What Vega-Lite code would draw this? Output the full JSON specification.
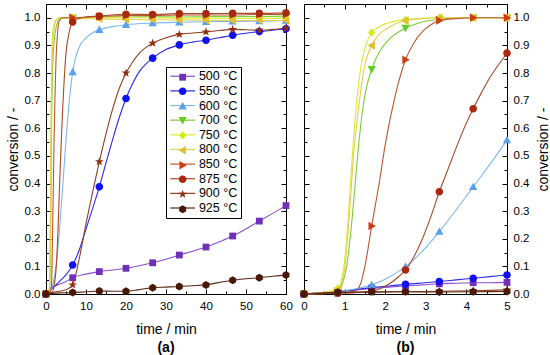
{
"$schema":"https://vega.github.io/schema/vega-lite/v6.json",
"padding":{"left":5,"top":3,"right":5,"bottom":0},
"background":"white",
"config":{"font":"Liberation Sans","view":{"stroke":"#000","strokeWidth":1},
"axis":{"domain":false,"grid":false,"tickColor":"#000","tickWidth":1,"labelFont":"Liberation Sans","labelFontSize":11.5,"labelColor":"#000","titleFont":"Liberation Sans","titleFontSize":14,"titleFontWeight":"normal","titleColor":"#000","labelFlush":false,"labelOverlap":false},
"title":{"font":"Liberation Sans","color":"#000"}},
"datasets":{
"A":[
{"s":"500 °C","t":0,"c":0,"m":1},{"s":"500 °C","t":1,"c":0.02,"m":0},{"s":"500 °C","t":2,"c":0.028,"m":0},{"s":"500 °C","t":3,"c":0.034,"m":0},{"s":"500 °C","t":4,"c":0.039,"m":0},{"s":"500 °C","t":5,"c":0.045,"m":0},{"s":"500 °C","t":6.667,"c":0.059,"m":1},{"s":"500 °C","t":10,"c":0.072,"m":0},{"s":"500 °C","t":13.333,"c":0.081,"m":1},{"s":"500 °C","t":16.667,"c":0.087,"m":0},{"s":"500 °C","t":20,"c":0.093,"m":1},{"s":"500 °C","t":23.333,"c":0.102,"m":0},{"s":"500 °C","t":26.667,"c":0.113,"m":1},{"s":"500 °C","t":30,"c":0.126,"m":0},{"s":"500 °C","t":33.333,"c":0.141,"m":1},{"s":"500 °C","t":36.667,"c":0.155,"m":0},{"s":"500 °C","t":40,"c":0.17,"m":1},{"s":"500 °C","t":43.333,"c":0.189,"m":0},{"s":"500 °C","t":46.667,"c":0.21,"m":1},{"s":"500 °C","t":50,"c":0.236,"m":0},{"s":"500 °C","t":53.333,"c":0.264,"m":1},{"s":"500 °C","t":56.667,"c":0.292,"m":0},{"s":"500 °C","t":60,"c":0.32,"m":1},
{"s":"550 °C","t":0,"c":0,"m":1},{"s":"550 °C","t":1.667,"c":0.022,"m":0},{"s":"550 °C","t":3.333,"c":0.045,"m":0},{"s":"550 °C","t":5,"c":0.069,"m":0},{"s":"550 °C","t":6.667,"c":0.105,"m":1},{"s":"550 °C","t":8.333,"c":0.16,"m":0},{"s":"550 °C","t":10,"c":0.235,"m":0},{"s":"550 °C","t":11.667,"c":0.31,"m":0},{"s":"550 °C","t":13.333,"c":0.388,"m":1},{"s":"550 °C","t":15,"c":0.475,"m":0},{"s":"550 °C","t":16.667,"c":0.56,"m":0},{"s":"550 °C","t":18.333,"c":0.64,"m":0},{"s":"550 °C","t":20,"c":0.708,"m":1},{"s":"550 °C","t":21.667,"c":0.762,"m":0},{"s":"550 °C","t":23.333,"c":0.805,"m":0},{"s":"550 °C","t":25,"c":0.833,"m":0},{"s":"550 °C","t":26.667,"c":0.854,"m":1},{"s":"550 °C","t":30,"c":0.885,"m":0},{"s":"550 °C","t":33.333,"c":0.902,"m":1},{"s":"550 °C","t":36.667,"c":0.912,"m":0},{"s":"550 °C","t":40,"c":0.919,"m":1},{"s":"550 °C","t":43.333,"c":0.928,"m":0},{"s":"550 °C","t":46.667,"c":0.937,"m":1},{"s":"550 °C","t":50,"c":0.944,"m":0},{"s":"550 °C","t":53.333,"c":0.95,"m":1},{"s":"550 °C","t":56.667,"c":0.955,"m":0},{"s":"550 °C","t":60,"c":0.96,"m":1},
{"s":"600 °C","t":0,"c":0,"m":1},{"s":"600 °C","t":0.833,"c":0.008,"m":0},{"s":"600 °C","t":1.667,"c":0.033,"m":0},{"s":"600 °C","t":2.5,"c":0.099,"m":0},{"s":"600 °C","t":3.333,"c":0.226,"m":0},{"s":"600 °C","t":4.167,"c":0.388,"m":0},{"s":"600 °C","t":5,"c":0.557,"m":0},{"s":"600 °C","t":5.833,"c":0.7,"m":0},{"s":"600 °C","t":6.667,"c":0.804,"m":1},{"s":"600 °C","t":7.5,"c":0.86,"m":0},{"s":"600 °C","t":8.333,"c":0.895,"m":0},{"s":"600 °C","t":10,"c":0.927,"m":0},{"s":"600 °C","t":11.667,"c":0.946,"m":0},{"s":"600 °C","t":13.333,"c":0.957,"m":1},{"s":"600 °C","t":16.667,"c":0.968,"m":0},{"s":"600 °C","t":20,"c":0.975,"m":1},{"s":"600 °C","t":26.667,"c":0.981,"m":1},{"s":"600 °C","t":33.333,"c":0.984,"m":1},{"s":"600 °C","t":40,"c":0.986,"m":1},{"s":"600 °C","t":46.667,"c":0.987,"m":1},{"s":"600 °C","t":53.333,"c":0.988,"m":1},{"s":"600 °C","t":60,"c":0.99,"m":1},
{"s":"700 °C","t":0,"c":0,"m":1},{"s":"700 °C","t":0.833,"c":0.012,"m":0},{"s":"700 °C","t":0.95,"c":0.04,"m":0},{"s":"700 °C","t":1.05,"c":0.1,"m":0},{"s":"700 °C","t":1.15,"c":0.22,"m":0},{"s":"700 °C","t":1.25,"c":0.38,"m":0},{"s":"700 °C","t":1.333,"c":0.52,"m":0},{"s":"700 °C","t":1.42,"c":0.64,"m":0},{"s":"700 °C","t":1.5,"c":0.72,"m":0},{"s":"700 °C","t":1.667,"c":0.814,"m":0},{"s":"700 °C","t":2.083,"c":0.92,"m":0},{"s":"700 °C","t":2.5,"c":0.963,"m":0},{"s":"700 °C","t":3.333,"c":0.995,"m":0},{"s":"700 °C","t":5,"c":1.0,"m":0},{"s":"700 °C","t":6.667,"c":1.0,"m":1},{"s":"700 °C","t":13.333,"c":1.003,"m":1},{"s":"700 °C","t":20,"c":1.002,"m":1},{"s":"700 °C","t":26.667,"c":1.004,"m":1},{"s":"700 °C","t":33.333,"c":1.003,"m":1},{"s":"700 °C","t":40,"c":1.004,"m":1},{"s":"700 °C","t":46.667,"c":1.005,"m":1},{"s":"700 °C","t":53.333,"c":1.005,"m":1},{"s":"700 °C","t":60,"c":1.006,"m":1},
{"s":"750 °C","t":0,"c":0,"m":1},{"s":"750 °C","t":0.833,"c":0.02,"m":0},{"s":"750 °C","t":0.92,"c":0.05,"m":0},{"s":"750 °C","t":1.0,"c":0.12,"m":0},{"s":"750 °C","t":1.1,"c":0.3,"m":0},{"s":"750 °C","t":1.2,"c":0.52,"m":0},{"s":"750 °C","t":1.3,"c":0.7,"m":0},{"s":"750 °C","t":1.4,"c":0.82,"m":0},{"s":"750 °C","t":1.5,"c":0.89,"m":0},{"s":"750 °C","t":1.667,"c":0.947,"m":0},{"s":"750 °C","t":2.083,"c":0.982,"m":0},{"s":"750 °C","t":2.5,"c":0.993,"m":0},{"s":"750 °C","t":3.333,"c":1.0,"m":0},{"s":"750 °C","t":6.667,"c":1.0,"m":1},{"s":"750 °C","t":13.333,"c":1.001,"m":1},{"s":"750 °C","t":20,"c":1.0,"m":1},{"s":"750 °C","t":26.667,"c":1.0,"m":1},{"s":"750 °C","t":33.333,"c":0.999,"m":1},{"s":"750 °C","t":40,"c":0.999,"m":1},{"s":"750 °C","t":46.667,"c":0.998,"m":1},{"s":"750 °C","t":53.333,"c":0.998,"m":1},{"s":"750 °C","t":60,"c":0.998,"m":1},
{"s":"800 °C","t":0,"c":0,"m":1},{"s":"800 °C","t":0.833,"c":0.015,"m":0},{"s":"800 °C","t":0.92,"c":0.04,"m":0},{"s":"800 °C","t":1.0,"c":0.09,"m":0},{"s":"800 °C","t":1.1,"c":0.25,"m":0},{"s":"800 °C","t":1.23,"c":0.52,"m":0},{"s":"800 °C","t":1.333,"c":0.66,"m":0},{"s":"800 °C","t":1.42,"c":0.76,"m":0},{"s":"800 °C","t":1.5,"c":0.83,"m":0},{"s":"800 °C","t":1.667,"c":0.9,"m":0},{"s":"800 °C","t":2.083,"c":0.965,"m":0},{"s":"800 °C","t":2.5,"c":0.99,"m":0},{"s":"800 °C","t":3.333,"c":1.0,"m":0},{"s":"800 °C","t":6.667,"c":0.998,"m":1},{"s":"800 °C","t":13.333,"c":0.996,"m":1},{"s":"800 °C","t":20,"c":0.994,"m":1},{"s":"800 °C","t":26.667,"c":0.993,"m":1},{"s":"800 °C","t":33.333,"c":0.992,"m":1},{"s":"800 °C","t":40,"c":0.991,"m":1},{"s":"800 °C","t":46.667,"c":0.99,"m":1},{"s":"800 °C","t":53.333,"c":0.99,"m":1},{"s":"800 °C","t":60,"c":0.99,"m":1},
{"s":"850 °C","t":0,"c":0,"m":1},{"s":"850 °C","t":0.833,"c":0.004,"m":0},{"s":"850 °C","t":1.333,"c":0.02,"m":0},{"s":"850 °C","t":1.5,"c":0.1,"m":0},{"s":"850 °C","t":1.667,"c":0.246,"m":0},{"s":"850 °C","t":1.85,"c":0.4,"m":0},{"s":"850 °C","t":2.0,"c":0.54,"m":0},{"s":"850 °C","t":2.25,"c":0.72,"m":0},{"s":"850 °C","t":2.5,"c":0.848,"m":0},{"s":"850 °C","t":2.917,"c":0.95,"m":0},{"s":"850 °C","t":3.333,"c":0.99,"m":0},{"s":"850 °C","t":4.167,"c":1.0,"m":0},{"s":"850 °C","t":6.667,"c":1.0,"m":1},{"s":"850 °C","t":13.333,"c":1.005,"m":1},{"s":"850 °C","t":20,"c":1.008,"m":1},{"s":"850 °C","t":26.667,"c":1.008,"m":1},{"s":"850 °C","t":33.333,"c":1.01,"m":1},{"s":"850 °C","t":40,"c":1.01,"m":1},{"s":"850 °C","t":46.667,"c":1.01,"m":1},{"s":"850 °C","t":53.333,"c":1.012,"m":1},{"s":"850 °C","t":60,"c":1.012,"m":1},
{"s":"875 °C","t":0,"c":0,"m":1},{"s":"875 °C","t":0.833,"c":0.003,"m":0},{"s":"875 °C","t":1.667,"c":0.01,"m":0},{"s":"875 °C","t":2.083,"c":0.035,"m":0},{"s":"875 °C","t":2.5,"c":0.087,"m":0},{"s":"875 °C","t":2.917,"c":0.2,"m":0},{"s":"875 °C","t":3.333,"c":0.37,"m":0},{"s":"875 °C","t":3.75,"c":0.53,"m":0},{"s":"875 °C","t":4.167,"c":0.671,"m":0},{"s":"875 °C","t":4.583,"c":0.785,"m":0},{"s":"875 °C","t":5,"c":0.872,"m":0},{"s":"875 °C","t":5.833,"c":0.95,"m":0},{"s":"875 °C","t":6.667,"c":0.985,"m":1},{"s":"875 °C","t":8.333,"c":0.998,"m":0},{"s":"875 °C","t":10,"c":1.003,"m":0},{"s":"875 °C","t":13.333,"c":1.006,"m":1},{"s":"875 °C","t":20,"c":1.013,"m":1},{"s":"875 °C","t":26.667,"c":1.012,"m":1},{"s":"875 °C","t":33.333,"c":1.015,"m":1},{"s":"875 °C","t":40,"c":1.015,"m":1},{"s":"875 °C","t":46.667,"c":1.016,"m":1},{"s":"875 °C","t":53.333,"c":1.016,"m":1},{"s":"875 °C","t":60,"c":1.018,"m":1},
{"s":"900 °C","t":0,"c":0,"m":1},{"s":"900 °C","t":2.5,"c":0.008,"m":0},{"s":"900 °C","t":5,"c":0.015,"m":0},{"s":"900 °C","t":6.667,"c":0.033,"m":1},{"s":"900 °C","t":8.333,"c":0.13,"m":0},{"s":"900 °C","t":10,"c":0.255,"m":0},{"s":"900 °C","t":11.667,"c":0.37,"m":0},{"s":"900 °C","t":13.333,"c":0.479,"m":1},{"s":"900 °C","t":15,"c":0.58,"m":0},{"s":"900 °C","t":16.667,"c":0.67,"m":0},{"s":"900 °C","t":18.333,"c":0.745,"m":0},{"s":"900 °C","t":20,"c":0.8,"m":1},{"s":"900 °C","t":21.667,"c":0.84,"m":0},{"s":"900 °C","t":23.333,"c":0.872,"m":0},{"s":"900 °C","t":25,"c":0.893,"m":0},{"s":"900 °C","t":26.667,"c":0.908,"m":1},{"s":"900 °C","t":30,"c":0.928,"m":0},{"s":"900 °C","t":33.333,"c":0.94,"m":1},{"s":"900 °C","t":36.667,"c":0.945,"m":0},{"s":"900 °C","t":40,"c":0.949,"m":1},{"s":"900 °C","t":43.333,"c":0.954,"m":0},{"s":"900 °C","t":46.667,"c":0.958,"m":1},{"s":"900 °C","t":50,"c":0.957,"m":0},{"s":"900 °C","t":53.333,"c":0.955,"m":1},{"s":"900 °C","t":56.667,"c":0.958,"m":0},{"s":"900 °C","t":60,"c":0.962,"m":1},
{"s":"925 °C","t":0,"c":0,"m":1},{"s":"925 °C","t":3.333,"c":0.004,"m":0},{"s":"925 °C","t":6.667,"c":0.005,"m":1},{"s":"925 °C","t":10,"c":0.008,"m":0},{"s":"925 °C","t":13.333,"c":0.011,"m":1},{"s":"925 °C","t":16.667,"c":0.01,"m":0},{"s":"925 °C","t":20,"c":0.01,"m":1},{"s":"925 °C","t":23.333,"c":0.016,"m":0},{"s":"925 °C","t":26.667,"c":0.023,"m":1},{"s":"925 °C","t":30,"c":0.025,"m":0},{"s":"925 °C","t":33.333,"c":0.027,"m":1},{"s":"925 °C","t":36.667,"c":0.03,"m":0},{"s":"925 °C","t":40,"c":0.033,"m":1},{"s":"925 °C","t":43.333,"c":0.042,"m":0},{"s":"925 °C","t":46.667,"c":0.05,"m":1},{"s":"925 °C","t":50,"c":0.055,"m":0},{"s":"925 °C","t":53.333,"c":0.059,"m":1},{"s":"925 °C","t":56.667,"c":0.064,"m":0},{"s":"925 °C","t":60,"c":0.069,"m":1}
],
"B":[
{"s":"500 °C","t":0,"c":0,"m":1},{"s":"500 °C","t":0.417,"c":0.004,"m":0},{"s":"500 °C","t":0.833,"c":0.008,"m":1},{"s":"500 °C","t":1.25,"c":0.014,"m":0},{"s":"500 °C","t":1.667,"c":0.02,"m":1},{"s":"500 °C","t":2.083,"c":0.025,"m":0},{"s":"500 °C","t":2.5,"c":0.029,"m":1},{"s":"500 °C","t":2.917,"c":0.033,"m":0},{"s":"500 °C","t":3.333,"c":0.037,"m":1},{"s":"500 °C","t":3.75,"c":0.039,"m":0},{"s":"500 °C","t":4.167,"c":0.041,"m":1},{"s":"500 °C","t":4.583,"c":0.041,"m":0},{"s":"500 °C","t":5,"c":0.042,"m":1},
{"s":"550 °C","t":0,"c":0,"m":1},{"s":"550 °C","t":0.417,"c":0.004,"m":0},{"s":"550 °C","t":0.833,"c":0.009,"m":1},{"s":"550 °C","t":1.25,"c":0.016,"m":0},{"s":"550 °C","t":1.667,"c":0.023,"m":1},{"s":"550 °C","t":2.083,"c":0.029,"m":0},{"s":"550 °C","t":2.5,"c":0.035,"m":1},{"s":"550 °C","t":2.917,"c":0.04,"m":0},{"s":"550 °C","t":3.333,"c":0.045,"m":1},{"s":"550 °C","t":3.75,"c":0.051,"m":0},{"s":"550 °C","t":4.167,"c":0.057,"m":1},{"s":"550 °C","t":4.583,"c":0.063,"m":0},{"s":"550 °C","t":5,"c":0.069,"m":1},
{"s":"600 °C","t":0,"c":0,"m":1},{"s":"600 °C","t":0.417,"c":0.003,"m":0},{"s":"600 °C","t":0.833,"c":0.008,"m":1},{"s":"600 °C","t":1.25,"c":0.018,"m":0},{"s":"600 °C","t":1.667,"c":0.033,"m":1},{"s":"600 °C","t":2.083,"c":0.06,"m":0},{"s":"600 °C","t":2.5,"c":0.099,"m":1},{"s":"600 °C","t":2.917,"c":0.155,"m":0},{"s":"600 °C","t":3.333,"c":0.226,"m":1},{"s":"600 °C","t":3.75,"c":0.305,"m":0},{"s":"600 °C","t":4.167,"c":0.388,"m":1},{"s":"600 °C","t":4.583,"c":0.47,"m":0},{"s":"600 °C","t":5,"c":0.557,"m":1},
{"s":"700 °C","t":0,"c":0,"m":1},{"s":"700 °C","t":0.417,"c":0.004,"m":0},{"s":"700 °C","t":0.833,"c":0.012,"m":1},{"s":"700 °C","t":0.95,"c":0.04,"m":0},{"s":"700 °C","t":1.05,"c":0.1,"m":0},{"s":"700 °C","t":1.15,"c":0.22,"m":0},{"s":"700 °C","t":1.25,"c":0.38,"m":0},{"s":"700 °C","t":1.333,"c":0.52,"m":0},{"s":"700 °C","t":1.42,"c":0.64,"m":0},{"s":"700 °C","t":1.5,"c":0.72,"m":0},{"s":"700 °C","t":1.667,"c":0.814,"m":1},{"s":"700 °C","t":1.85,"c":0.875,"m":0},{"s":"700 °C","t":2.083,"c":0.92,"m":0},{"s":"700 °C","t":2.5,"c":0.963,"m":1},{"s":"700 °C","t":2.917,"c":0.985,"m":0},{"s":"700 °C","t":3.333,"c":0.995,"m":1},{"s":"700 °C","t":3.75,"c":0.999,"m":0},{"s":"700 °C","t":4.167,"c":1.0,"m":1},{"s":"700 °C","t":5,"c":1.0,"m":1},
{"s":"750 °C","t":0,"c":0,"m":1},{"s":"750 °C","t":0.417,"c":0.005,"m":0},{"s":"750 °C","t":0.833,"c":0.02,"m":1},{"s":"750 °C","t":0.92,"c":0.05,"m":0},{"s":"750 °C","t":1.0,"c":0.12,"m":0},{"s":"750 °C","t":1.1,"c":0.3,"m":0},{"s":"750 °C","t":1.2,"c":0.52,"m":0},{"s":"750 °C","t":1.3,"c":0.7,"m":0},{"s":"750 °C","t":1.4,"c":0.82,"m":0},{"s":"750 °C","t":1.5,"c":0.89,"m":0},{"s":"750 °C","t":1.667,"c":0.947,"m":1},{"s":"750 °C","t":1.85,"c":0.968,"m":0},{"s":"750 °C","t":2.083,"c":0.982,"m":0},{"s":"750 °C","t":2.5,"c":0.993,"m":1},{"s":"750 °C","t":2.917,"c":0.998,"m":0},{"s":"750 °C","t":3.333,"c":1.0,"m":1},{"s":"750 °C","t":4.167,"c":1.0,"m":1},{"s":"750 °C","t":5,"c":1.0,"m":1},
{"s":"800 °C","t":0,"c":0,"m":1},{"s":"800 °C","t":0.417,"c":0.004,"m":0},{"s":"800 °C","t":0.833,"c":0.015,"m":1},{"s":"800 °C","t":0.92,"c":0.04,"m":0},{"s":"800 °C","t":1.0,"c":0.09,"m":0},{"s":"800 °C","t":1.1,"c":0.25,"m":0},{"s":"800 °C","t":1.23,"c":0.52,"m":0},{"s":"800 °C","t":1.333,"c":0.66,"m":0},{"s":"800 °C","t":1.42,"c":0.76,"m":0},{"s":"800 °C","t":1.5,"c":0.83,"m":0},{"s":"800 °C","t":1.667,"c":0.9,"m":1},{"s":"800 °C","t":1.85,"c":0.94,"m":0},{"s":"800 °C","t":2.083,"c":0.965,"m":0},{"s":"800 °C","t":2.5,"c":0.99,"m":1},{"s":"800 °C","t":2.917,"c":0.997,"m":0},{"s":"800 °C","t":3.333,"c":1.0,"m":1},{"s":"800 °C","t":4.167,"c":1.0,"m":1},{"s":"800 °C","t":5,"c":1.0,"m":1},
{"s":"850 °C","t":0,"c":0,"m":1},{"s":"850 °C","t":0.833,"c":0.004,"m":1},{"s":"850 °C","t":1.25,"c":0.01,"m":0},{"s":"850 °C","t":1.4,"c":0.04,"m":0},{"s":"850 °C","t":1.5,"c":0.1,"m":0},{"s":"850 °C","t":1.667,"c":0.246,"m":1},{"s":"850 °C","t":1.85,"c":0.4,"m":0},{"s":"850 °C","t":2.0,"c":0.54,"m":0},{"s":"850 °C","t":2.25,"c":0.72,"m":0},{"s":"850 °C","t":2.5,"c":0.848,"m":1},{"s":"850 °C","t":2.708,"c":0.91,"m":0},{"s":"850 °C","t":2.917,"c":0.95,"m":0},{"s":"850 °C","t":3.125,"c":0.975,"m":0},{"s":"850 °C","t":3.333,"c":0.99,"m":1},{"s":"850 °C","t":3.75,"c":0.997,"m":0},{"s":"850 °C","t":4.167,"c":1.0,"m":1},{"s":"850 °C","t":5,"c":1.0,"m":1},
{"s":"875 °C","t":0,"c":0,"m":1},{"s":"875 °C","t":0.833,"c":0.003,"m":1},{"s":"875 °C","t":1.25,"c":0.005,"m":0},{"s":"875 °C","t":1.667,"c":0.01,"m":1},{"s":"875 °C","t":2.083,"c":0.035,"m":0},{"s":"875 °C","t":2.292,"c":0.058,"m":0},{"s":"875 °C","t":2.5,"c":0.087,"m":1},{"s":"875 °C","t":2.708,"c":0.135,"m":0},{"s":"875 °C","t":2.917,"c":0.2,"m":0},{"s":"875 °C","t":3.125,"c":0.28,"m":0},{"s":"875 °C","t":3.333,"c":0.37,"m":1},{"s":"875 °C","t":3.542,"c":0.45,"m":0},{"s":"875 °C","t":3.75,"c":0.53,"m":0},{"s":"875 °C","t":3.958,"c":0.605,"m":0},{"s":"875 °C","t":4.167,"c":0.671,"m":1},{"s":"875 °C","t":4.375,"c":0.73,"m":0},{"s":"875 °C","t":4.583,"c":0.785,"m":0},{"s":"875 °C","t":4.792,"c":0.83,"m":0},{"s":"875 °C","t":5,"c":0.872,"m":1},
{"s":"900 °C","t":0,"c":0,"m":1},{"s":"900 °C","t":0.833,"c":0.004,"m":1},{"s":"900 °C","t":1.667,"c":0.006,"m":1},{"s":"900 °C","t":2.5,"c":0.008,"m":1},{"s":"900 °C","t":3.333,"c":0.01,"m":1},{"s":"900 °C","t":4.167,"c":0.012,"m":1},{"s":"900 °C","t":5,"c":0.015,"m":1},
{"s":"925 °C","t":0,"c":0,"m":1},{"s":"925 °C","t":0.833,"c":0.006,"m":1},{"s":"925 °C","t":1.667,"c":0.008,"m":1},{"s":"925 °C","t":2.5,"c":0.008,"m":1},{"s":"925 °C","t":3.333,"c":0.007,"m":1},{"s":"925 °C","t":4.167,"c":0.008,"m":1},{"s":"925 °C","t":5,"c":0.009,"m":1}
]},
"spacing":18,
"bounds":"flush",
"resolve":{"scale":{"fill":"independent","stroke":"independent","shape":"independent"},"legend":{"fill":"independent","stroke":"independent","shape":"independent"}},
"hconcat":[
{"width":240,"height":290,
"title":{"text":"(a)","orient":"bottom","fontSize":14,"fontWeight":"bold","offset":4},
"resolve":{"scale":{"fill":"independent","stroke":"independent","shape":"independent"},"legend":{"fill":"independent","stroke":"independent","shape":"independent"},"axis":{"x":"independent","y":"independent"}},
"layer":[
{"data":{"name":"A"},"mark":{"type":"line","strokeWidth":1.1,"interpolate":"monotone"},
"encoding":{
"x":{"field":"t","type":"quantitative","scale":{"domain":[0,60],"nice":false,"zero":false},"axis":{"orient":"bottom","values":[0,10,20,30,40,50,60],"offset":-5,"tickSize":5,"labelPadding":6,"title":"time / min","titlePadding":11,"titleFontWeight":"normal"}},
"y":{"field":"c","type":"quantitative","scale":{"domain":[0,1.05],"nice":false,"zero":false},"axis":{"orient":"left","values":[0,0.1,0.2,0.3,0.4,0.5,0.6,0.7,0.8,0.9,1.0],"format":".1f","offset":-5,"tickSize":5,"labelPadding":6,"title":"conversion / -","titlePadding":4,"titleFontWeight":"normal"}},
"stroke":{"field":"s","type":"nominal","scale":{"domain":["500 °C","550 °C","600 °C","700 °C","750 °C","800 °C","850 °C","875 °C","900 °C","925 °C"],"range":["#8a4fd0","#2a2ae8","#7cb8f0","#7ccf3a","#d8ec30","#e8cc50","#b85a30","#a84a28","#8c4020","#5a2a14"]},"legend":null}}},
{"data":{"name":"A"},"transform":[{"filter":"datum.m == 1"}],"mark":{"type":"point","filled":true,"size":64,"opacity":1,"strokeWidth":0},
"encoding":{
"x":{"field":"t","type":"quantitative","scale":{"domain":[0,60],"nice":false,"zero":false},"axis":{"orient":"top","values":[0,10,20,30,40,50,60],"offset":-5,"tickSize":5,"labels":false,"title":null}},
"y":{"field":"c","type":"quantitative","scale":{"domain":[0,1.05],"nice":false,"zero":false},"axis":{"orient":"right","values":[0,0.1,0.2,0.3,0.4,0.5,0.6,0.7,0.8,0.9,1.0],"offset":-5,"tickSize":5,"labels":false,"title":null}},
"fill":{"field":"s","type":"nominal","scale":{"domain":["500 °C","550 °C","600 °C","700 °C","750 °C","800 °C","850 °C","875 °C","900 °C","925 °C"],"range":["#7030b8","#1010f0","#5aa0f0","#66cc22","#d4ee10","#e0c030","#d03c10","#a82810","#903010","#4a1808"]},"legend":null},
"shape":{"field":"s","type":"nominal","scale":{"domain":["500 °C","550 °C","600 °C","700 °C","750 °C","800 °C","850 °C","875 °C","900 °C","925 °C"],"range":["M-0.85,-0.85H0.85V0.85H-0.85Z","M-0.95,0A0.95,0.95,0,1,1,0.95,0A0.95,0.95,0,1,1,-0.95,0Z","M0,-1.05L1.05,0.8L-1.05,0.8Z","M0,1.05L1.05,-0.8L-1.05,-0.8Z","M0,-1.05L0.9,0L0,1.05L-0.9,0Z","M-1.05,0L0.8,-1.05L0.8,1.05Z","M1.05,0L-0.8,-1.05L-0.8,1.05Z","M-0.95,0A0.95,0.95,0,1,1,0.95,0A0.95,0.95,0,1,1,-0.95,0Z","M0,-1.15L0.27,-0.37L1.09,-0.36L0.44,0.14L0.68,0.93L0,0.46L-0.68,0.93L-0.44,0.14L-1.09,-0.36L-0.27,-0.37Z","M0,-1L0.87,-0.5L0.87,0.5L0,1L-0.87,0.5L-0.87,-0.5Z"]},"legend":null}}},
{"data":{"values":[]},"mark":{"type":"point"},
"encoding":{
"x":{"field":"t","type":"quantitative","scale":{"domain":[0,60],"nice":false,"zero":false},"axis":{"orient":"bottom","values":[5,15,25,35,45,55],"offset":-3,"tickSize":3,"labels":false,"title":null}},
"y":{"field":"c","type":"quantitative","scale":{"domain":[0,1.05],"nice":false,"zero":false},"axis":{"orient":"left","values":[0.05,0.15,0.25,0.35,0.45,0.55,0.65,0.75,0.85,0.95],"offset":-3,"tickSize":3,"labels":false,"title":null}}}},
{"data":{"values":[]},"mark":{"type":"point"},
"encoding":{
"x":{"field":"t","type":"quantitative","scale":{"domain":[0,60],"nice":false,"zero":false},"axis":{"orient":"top","values":[5,15,25,35,45,55],"offset":-3,"tickSize":3,"labels":false,"title":null}},
"y":{"field":"c","type":"quantitative","scale":{"domain":[0,1.05],"nice":false,"zero":false},"axis":{"orient":"right","values":[0.05,0.15,0.25,0.35,0.45,0.55,0.65,0.75,0.85,0.95],"offset":-3,"tickSize":3,"labels":false,"title":null}}}},
{"data":{"values":[]},"mark":{"type":"line"},
"encoding":{
"x":{"field":"t","type":"quantitative","scale":{"domain":[0,60],"nice":false,"zero":false},"axis":null},
"y":{"field":"c","type":"quantitative","scale":{"domain":[0,1.05],"nice":false,"zero":false},"axis":null},
"stroke":{"field":"s","type":"nominal","scale":{"domain":["500 °C","550 °C","600 °C","700 °C","750 °C","800 °C","850 °C","875 °C","900 °C","925 °C"],"range":["#8a4fd0","#2a2ae8","#7cb8f0","#7ccf3a","#d8ec30","#e8cc50","#b85a30","#a84a28","#8c4020","#5a2a14"]},"legend":{"orient":"none","legendX":120,"legendY":63,"title":null,"strokeColor":"#000","fillColor":"#fff","padding":3,"symbolType":"M-3.1,0H3.1","symbolSize":64,"symbolStrokeWidth":1.2,"symbolOffset":7.4,"labelOffset":10,"labelFontSize":12.5,"labelFont":"Liberation Sans","labelColor":"#000","rowPadding":1.64,"labelLimit":200}}}},
{"data":{"values":[]},"mark":{"type":"point","filled":true,"opacity":1},
"encoding":{
"x":{"field":"t","type":"quantitative","scale":{"domain":[0,60],"nice":false,"zero":false},"axis":null},
"y":{"field":"c","type":"quantitative","scale":{"domain":[0,1.05],"nice":false,"zero":false},"axis":null},
"fill":{"field":"s","type":"nominal","scale":{"domain":["500 °C","550 °C","600 °C","700 °C","750 °C","800 °C","850 °C","875 °C","900 °C","925 °C"],"range":["#7030b8","#1010f0","#5aa0f0","#66cc22","#d4ee10","#e0c030","#d03c10","#a82810","#903010","#4a1808"]},"legend":{"orient":"none","legendX":120,"legendY":64,"title":null,"padding":3,"symbolSize":64,"symbolStrokeWidth":1.2,"symbolOffset":7.4,"labelOffset":10,"labelFontSize":12.5,"labelFont":"Liberation Sans","labelExpr":"''","rowPadding":1.0,"labelLimit":200}},
"shape":{"field":"s","type":"nominal","scale":{"domain":["500 °C","550 °C","600 °C","700 °C","750 °C","800 °C","850 °C","875 °C","900 °C","925 °C"],"range":["M-0.85,-0.85H0.85V0.85H-0.85Z","M-0.95,0A0.95,0.95,0,1,1,0.95,0A0.95,0.95,0,1,1,-0.95,0Z","M0,-1.05L1.05,0.8L-1.05,0.8Z","M0,1.05L1.05,-0.8L-1.05,-0.8Z","M0,-1.05L0.9,0L0,1.05L-0.9,0Z","M-1.05,0L0.8,-1.05L0.8,1.05Z","M1.05,0L-0.8,-1.05L-0.8,1.05Z","M-0.95,0A0.95,0.95,0,1,1,0.95,0A0.95,0.95,0,1,1,-0.95,0Z","M0,-1.15L0.27,-0.37L1.09,-0.36L0.44,0.14L0.68,0.93L0,0.46L-0.68,0.93L-0.44,0.14L-1.09,-0.36L-0.27,-0.37Z","M0,-1L0.87,-0.5L0.87,0.5L0,1L-0.87,0.5L-0.87,-0.5Z"]},"legend":{"orient":"none","legendX":120,"legendY":64,"title":null,"padding":3,"symbolSize":64,"symbolStrokeWidth":1.2,"symbolOffset":7.4,"labelOffset":10,"labelFontSize":12.5,"labelFont":"Liberation Sans","labelExpr":"''","rowPadding":1.0,"labelLimit":200}}}}
]},
{"width":203,"height":290,
"title":{"text":"(b)","orient":"bottom","fontSize":14,"fontWeight":"bold","offset":4},
"resolve":{"axis":{"x":"independent","y":"independent"}},
"layer":[
{"data":{"name":"B"},"mark":{"type":"line","strokeWidth":1.1,"interpolate":"monotone"},
"encoding":{
"x":{"field":"t","type":"quantitative","scale":{"domain":[0,5],"nice":false,"zero":false},"axis":{"orient":"bottom","values":[0,1,2,3,4,5],"offset":-5,"tickSize":5,"labelPadding":6,"title":"time / min","titlePadding":11,"titleFontWeight":"normal"}},
"y":{"field":"c","type":"quantitative","scale":{"domain":[0,1.05],"nice":false,"zero":false},"axis":{"orient":"right","values":[0,0.1,0.2,0.3,0.4,0.5,0.6,0.7,0.8,0.9,1.0],"format":".1f","offset":-5,"tickSize":5,"labelPadding":6,"title":"conversion / -","titleAngle":270,"titleBaseline":"middle","titleAlign":"center","titleX":41,"titleY":145,"titleFontWeight":"normal"}},
"stroke":{"field":"s","type":"nominal","scale":{"domain":["500 °C","550 °C","600 °C","700 °C","750 °C","800 °C","850 °C","875 °C","900 °C","925 °C"],"range":["#8a4fd0","#2a2ae8","#7cb8f0","#7ccf3a","#d8ec30","#e8cc50","#b85a30","#a84a28","#8c4020","#5a2a14"]},"legend":null}}},
{"data":{"name":"B"},"transform":[{"filter":"datum.m == 1"}],"mark":{"type":"point","filled":true,"size":64,"opacity":1,"strokeWidth":0},
"encoding":{
"x":{"field":"t","type":"quantitative","scale":{"domain":[0,5],"nice":false,"zero":false},"axis":{"orient":"top","values":[0,1,2,3,4,5],"offset":-5,"tickSize":5,"labels":false,"title":null}},
"y":{"field":"c","type":"quantitative","scale":{"domain":[0,1.05],"nice":false,"zero":false},"axis":{"orient":"left","values":[0,0.1,0.2,0.3,0.4,0.5,0.6,0.7,0.8,0.9,1.0],"offset":-5,"tickSize":5,"labels":false,"title":null}},
"fill":{"field":"s","type":"nominal","scale":{"domain":["500 °C","550 °C","600 °C","700 °C","750 °C","800 °C","850 °C","875 °C","900 °C","925 °C"],"range":["#7030b8","#1010f0","#5aa0f0","#66cc22","#d4ee10","#e0c030","#d03c10","#a82810","#903010","#4a1808"]},"legend":null},
"shape":{"field":"s","type":"nominal","scale":{"domain":["500 °C","550 °C","600 °C","700 °C","750 °C","800 °C","850 °C","875 °C","900 °C","925 °C"],"range":["M-0.85,-0.85H0.85V0.85H-0.85Z","M-0.95,0A0.95,0.95,0,1,1,0.95,0A0.95,0.95,0,1,1,-0.95,0Z","M0,-1.05L1.05,0.8L-1.05,0.8Z","M0,1.05L1.05,-0.8L-1.05,-0.8Z","M0,-1.05L0.9,0L0,1.05L-0.9,0Z","M-1.05,0L0.8,-1.05L0.8,1.05Z","M1.05,0L-0.8,-1.05L-0.8,1.05Z","M-0.95,0A0.95,0.95,0,1,1,0.95,0A0.95,0.95,0,1,1,-0.95,0Z","M0,-1.15L0.27,-0.37L1.09,-0.36L0.44,0.14L0.68,0.93L0,0.46L-0.68,0.93L-0.44,0.14L-1.09,-0.36L-0.27,-0.37Z","M0,-1L0.87,-0.5L0.87,0.5L0,1L-0.87,0.5L-0.87,-0.5Z"]},"legend":null}}},
{"data":{"values":[]},"mark":{"type":"point"},
"encoding":{
"x":{"field":"t","type":"quantitative","scale":{"domain":[0,5],"nice":false,"zero":false},"axis":{"orient":"bottom","values":[0.5,1.5,2.5,3.5,4.5],"offset":-3,"tickSize":3,"labels":false,"title":null}},
"y":{"field":"c","type":"quantitative","scale":{"domain":[0,1.05],"nice":false,"zero":false},"axis":{"orient":"left","values":[0.05,0.15,0.25,0.35,0.45,0.55,0.65,0.75,0.85,0.95],"offset":-3,"tickSize":3,"labels":false,"title":null}}}},
{"data":{"values":[]},"mark":{"type":"point"},
"encoding":{
"x":{"field":"t","type":"quantitative","scale":{"domain":[0,5],"nice":false,"zero":false},"axis":{"orient":"top","values":[0.5,1.5,2.5,3.5,4.5],"offset":-3,"tickSize":3,"labels":false,"title":null}},
"y":{"field":"c","type":"quantitative","scale":{"domain":[0,1.05],"nice":false,"zero":false},"axis":{"orient":"right","values":[0.05,0.15,0.25,0.35,0.45,0.55,0.65,0.75,0.85,0.95],"offset":-3,"tickSize":3,"labels":false,"title":null}}}}
]}
]}
